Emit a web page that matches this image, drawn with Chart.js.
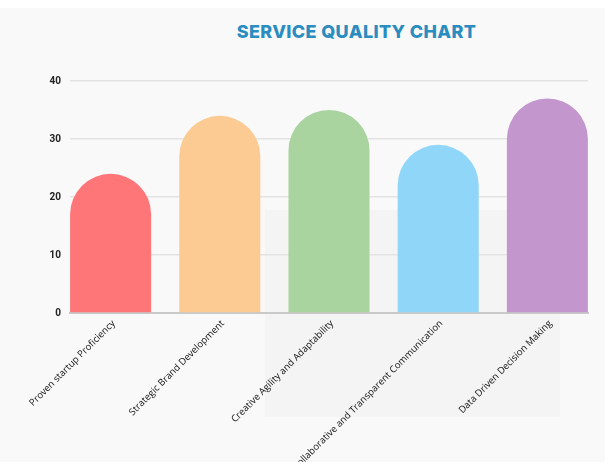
<!DOCTYPE html>
<html>
<head>
<meta charset="utf-8">
<script src="https://cdn.jsdelivr.net/npm/chart.js@4/dist/chart.umd.min.js"></script>
<style>
  html, body { margin: 0; padding: 0; background: #ffffff; }
  body { width: 613px; height: 472px; position: relative; overflow: hidden; }
  #box { position: absolute; left: 0; top: 8px; width: 605px; height: 454px; background: #f9f9fa; }
  #shade { position: absolute; left: 265px; top: 202px; width: 295px; height: 207px; background: #f4f4f4; }
  #title { position: absolute; top: 13px; left: 0; width: 713px; text-align: center;
    font-family: Inter, "Open Sans", sans-serif; font-weight: 800; font-size: 18px;
    color: #2a8cbf; letter-spacing: 0.35px; margin: 0; }
  #wrap { position: absolute; left: 0; top: 0; width: 605px; height: 454px; }
</style>
</head>
<body>
<div id="box">
  <div id="shade"></div>
  <div id="title">SERVICE QUALITY CHART</div>
  <div id="wrap"><canvas id="c"></canvas></div>
</div>
<script>
const categories = [
  "Proven startup Proficiency",
  "Strategic Brand Development",
  "Creative Agility and Adaptability",
  "Collaborative and Transparent Communication",
  "Data Driven Decision Making"
];
const values = [24, 34, 35, 29, 37];
const barColors = ["#ff7678", "#fcca93", "#a9d4a0", "#90d6f8", "#c397ce"];
const yTicks = [0, 10, 20, 30, 40];

new Chart(document.getElementById('c'), {
  type: 'bar',
  data: {
    datasets: [{
      data: categories.map((c, i) => ({ x: i, y: values[i] })),
      backgroundColor: barColors,
      borderWidth: 0,
      borderRadius: 100,
      borderSkipped: 'start',
      categoryPercentage: 1,
      barPercentage: 0.742
    }]
  },
  options: {
    responsive: true,
    maintainAspectRatio: false,
    animation: false,
    layout: { padding: { top: 73, right: 17, left: 0, bottom: 0 } },
    plugins: { legend: { display: false }, tooltip: { enabled: false }, title: { display: false } },
    scales: {
      x: {
        type: 'linear',
        bounds: 'data',
        offset: false,
        min: -0.372,
        max: 4.372,
        afterBuildTicks: (s) => { s.ticks = categories.map((c, i) => ({ value: i })); },
        afterFit: (s) => { s.height = 149; },
        grid: { display: false, drawTicks: false },
        border: { display: true, color: '#c9c9c9', width: 2 },
        ticks: {
          autoSkip: false,
          minRotation: 45,
          maxRotation: 45,
          padding: 5,
          labelOffset: 3,
          color: '#111',
          font: { family: '"Open Sans", sans-serif', size: 9.5 },
          callback: (v) => categories[v] ?? ''
        }
      },
      y: {
        min: 0,
        max: 40,
        afterBuildTicks: (s) => { s.ticks = yTicks.map(v => ({ value: v })); },
        afterFit: (s) => { s.width = 70; },
        grid: { color: '#e3e3e3', lineWidth: 1.5, drawTicks: false },
        border: { display: false },
        ticks: {
          padding: 9,
          color: '#222',
          font: { family: 'Roboto, sans-serif', size: 10, weight: 'bold' }
        }
      }
    }
  }
});
</script>
</body>
</html>
